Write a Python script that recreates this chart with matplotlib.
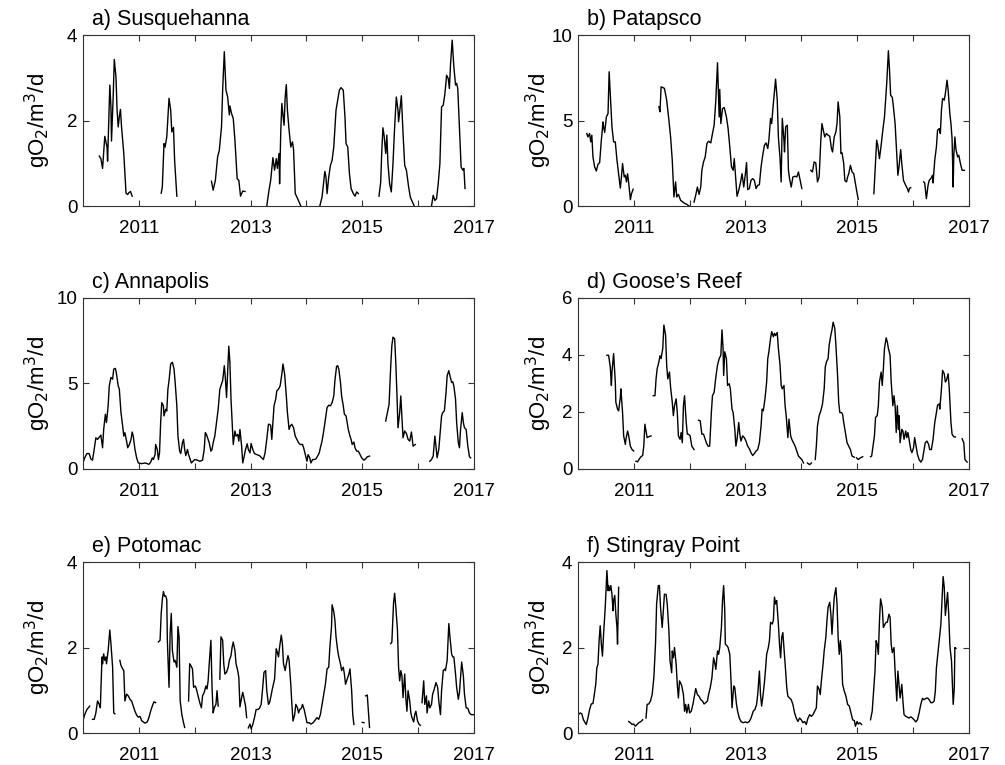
import numpy as np
import matplotlib
matplotlib.use("Agg")
import matplotlib.pyplot as plt

plt.rcParams['font.family'] = ['Liberation Sans', 'DejaVu Sans']

# (decimal year, gO2/m3/d); None marks a gap in the record
susquehanna = [
    (2010.29, 1.17), (2010.32, 1.11), (2010.35, 0.88), (2010.39, 1.63), (2010.43, 1.38), (2010.44, 1.05),
    (2010.48, 2.83), (2010.50, 2.32), (2010.51, 1.52), (2010.54, 2.55), (2010.56, 3.43), (2010.59, 3.02),
    (2010.61, 2.24), (2010.63, 1.85), (2010.65, 2.09), (2010.67, 2.26), (2010.69, 1.85), (2010.73, 1.23),
    (2010.77, 0.30), (2010.80, 0.27), (2010.82, 0.31), (2010.85, 0.34), (2010.88, 0.23), None,
    (2011.40, 0.30), (2011.42, 0.45), (2011.45, 1.46), (2011.47, 1.38), (2011.50, 1.62), (2011.52, 2.09),
    (2011.54, 2.52), (2011.57, 2.24), (2011.59, 1.73), (2011.62, 1.84), (2011.64, 1.07), (2011.68, 0.23), None,
    (2012.30, 0.58), (2012.33, 0.37), (2012.37, 0.60), (2012.41, 1.15), (2012.44, 1.30), (2012.48, 1.85),
    (2012.50, 2.71), (2012.53, 3.61), (2012.56, 2.71), (2012.59, 2.55), (2012.62, 2.13), (2012.63, 2.34),
    (2012.66, 2.16), (2012.69, 2.05), (2012.72, 1.54), (2012.76, 0.64), (2012.79, 0.60), (2012.82, 0.23),
    (2012.86, 0.35), (2012.90, 0.34), None,
    (2013.29, 0.00), (2013.33, 0.37), (2013.36, 0.60), (2013.40, 1.13), (2013.43, 0.84), (2013.46, 1.11),
    (2013.48, 0.88), (2013.51, 1.23), (2013.52, 0.52), (2013.54, 1.70), (2013.56, 2.40), (2013.58, 2.13),
    (2013.60, 1.89), (2013.62, 2.55), (2013.64, 2.84), (2013.66, 2.24), (2013.69, 1.77), (2013.72, 1.38),
    (2013.75, 1.50), (2013.77, 1.32), (2013.80, 0.29), (2013.83, 0.21), (2013.87, 0.09), (2013.90, 0.00), None,
    (2014.24, 0.00), (2014.28, 0.21), (2014.30, 0.45), (2014.33, 0.81), (2014.35, 0.68), (2014.37, 0.29),
    (2014.40, 0.68), (2014.43, 0.95), (2014.46, 1.07), (2014.49, 1.38), (2014.53, 2.24), (2014.56, 2.48),
    (2014.59, 2.71), (2014.62, 2.77), (2014.66, 2.71), (2014.69, 2.09), (2014.71, 1.46), (2014.74, 1.38),
    (2014.77, 0.76), (2014.80, 0.41), (2014.84, 0.29), (2014.87, 0.23), (2014.90, 0.33), (2014.93, 0.29), None,
    (2015.30, 0.23), (2015.33, 0.56), (2015.35, 1.30), (2015.37, 1.83), (2015.39, 1.66), (2015.42, 1.23),
    (2015.44, 1.66), (2015.46, 0.99), (2015.49, 0.52), (2015.52, 0.33), (2015.55, 0.99), (2015.58, 1.85),
    (2015.61, 2.55), (2015.64, 2.24), (2015.65, 1.97), (2015.68, 2.32), (2015.70, 2.58), (2015.73, 1.70),
    (2015.76, 0.95), (2015.79, 0.84), (2015.83, 0.45), (2015.86, 0.21), (2015.90, 0.09), (2015.93, 0.00), None,
    (2016.24, 0.00), (2016.27, 0.25), (2016.30, 0.13), (2016.33, 0.17), (2016.36, 0.52), (2016.39, 0.99),
    (2016.42, 2.32), (2016.45, 2.36), (2016.48, 2.63), (2016.51, 3.06), (2016.54, 2.98), (2016.56, 2.75),
    (2016.58, 3.30), (2016.61, 3.88), (2016.64, 3.26), (2016.67, 2.83), (2016.69, 2.87), (2016.71, 2.75),
    (2016.74, 1.85), (2016.77, 0.91), (2016.80, 0.84), (2016.82, 0.88), (2016.84, 0.41),
]

patapsco = [
    (2010.16, 4.24), (2010.18, 4.04), (2010.21, 4.24), (2010.23, 3.75), (2010.25, 4.14), (2010.27, 2.87),
    (2010.30, 2.29), (2010.33, 2.05), (2010.36, 2.44), (2010.39, 2.54), (2010.42, 3.85), (2010.45, 4.92),
    (2010.46, 4.63), (2010.48, 4.30), (2010.51, 5.21), (2010.54, 5.41), (2010.56, 7.85), (2010.58, 6.58),
    (2010.61, 4.63), (2010.64, 3.75), (2010.67, 3.75), (2010.70, 2.68), (2010.73, 1.89), (2010.76, 1.05),
    (2010.78, 1.70), (2010.80, 2.48), (2010.83, 1.70), (2010.85, 1.80), (2010.87, 1.41), (2010.89, 1.89),
    (2010.91, 1.35), (2010.94, 0.37), (2010.96, 0.72), (2010.99, 0.98), None,
    (2011.45, 5.80), (2011.47, 5.51), (2011.49, 6.97), (2011.52, 6.93), (2011.55, 6.88), (2011.59, 6.19),
    (2011.63, 5.02), (2011.66, 4.04), (2011.69, 2.68), (2011.72, 0.53), (2011.75, 1.41), (2011.77, 0.53),
    (2011.80, 0.68), (2011.84, 0.33), (2011.88, 0.23), (2011.92, 0.14), (2011.95, 0.10), (2011.99, 0.00), None,
    (2012.08, 0.23), (2012.11, 0.63), (2012.14, 1.11), (2012.17, 0.68), (2012.20, 1.11), (2012.22, 2.09),
    (2012.25, 2.58), (2012.28, 2.87), (2012.31, 3.65), (2012.34, 3.79), (2012.38, 3.69), (2012.41, 4.24),
    (2012.44, 4.73), (2012.47, 6.19), (2012.50, 8.38), (2012.53, 5.21), (2012.54, 6.82), (2012.56, 4.82),
    (2012.59, 5.70), (2012.62, 5.76), (2012.66, 5.21), (2012.69, 4.53), (2012.72, 3.46), (2012.75, 2.29),
    (2012.78, 2.09), (2012.80, 2.77), (2012.83, 1.50), (2012.85, 0.57), (2012.88, 0.92), (2012.91, 1.35),
    (2012.94, 1.89), (2012.97, 1.11), (2013.00, 1.89), (2013.02, 2.54), (2013.04, 0.96), (2013.07, 1.02),
    (2013.10, 1.50), (2013.13, 1.60), (2013.16, 1.50), (2013.19, 1.02), (2013.22, 1.21), (2013.25, 1.25),
    (2013.28, 2.29), (2013.31, 2.97), (2013.34, 3.55), (2013.37, 3.69), (2013.40, 3.36), (2013.42, 3.85),
    (2013.45, 5.12), (2013.47, 4.82), (2013.50, 5.99), (2013.54, 7.42), (2013.57, 6.19), (2013.59, 4.04),
    (2013.62, 2.77), (2013.64, 1.41), (2013.66, 5.12), (2013.69, 3.85), (2013.70, 3.16), (2013.72, 4.63),
    (2013.75, 4.73), (2013.77, 2.09), (2013.79, 1.60), (2013.82, 1.11), (2013.85, 1.70), (2013.89, 1.74),
    (2013.92, 1.70), (2013.95, 1.99), (2013.98, 1.50), (2014.01, 1.02), None,
    (2014.17, 2.09), (2014.20, 1.99), (2014.23, 2.58), (2014.26, 2.52), (2014.29, 1.41), (2014.32, 1.70),
    (2014.35, 3.85), (2014.37, 4.82), (2014.40, 4.34), (2014.42, 4.04), (2014.45, 4.24), (2014.48, 4.14),
    (2014.51, 4.08), (2014.54, 3.36), (2014.56, 3.16), (2014.59, 4.04), (2014.62, 4.34), (2014.64, 4.82),
    (2014.66, 6.09), (2014.69, 5.21), (2014.71, 3.07), (2014.73, 3.11), (2014.76, 2.48), (2014.78, 1.50),
    (2014.81, 1.41), (2014.83, 1.70), (2014.85, 1.89), (2014.88, 2.38), (2014.91, 1.99), (2014.94, 1.89),
    (2014.96, 1.50), (2014.99, 0.92), (2015.02, 0.39), None,
    (2015.30, 0.72), (2015.33, 2.58), (2015.35, 3.85), (2015.37, 3.55), (2015.40, 2.77), (2015.43, 3.55),
    (2015.46, 4.43), (2015.49, 5.21), (2015.51, 6.19), (2015.53, 7.17), (2015.56, 9.08), (2015.58, 7.95),
    (2015.60, 6.48), (2015.63, 6.35), (2015.65, 5.80), (2015.68, 4.82), (2015.71, 3.07), (2015.73, 1.80),
    (2015.75, 2.29), (2015.78, 3.30), (2015.80, 2.48), (2015.83, 1.50), (2015.87, 1.21), (2015.90, 1.02),
    (2015.92, 0.82), (2015.94, 1.05), (2015.96, 1.07), None,
    (2016.19, 1.41), (2016.21, 1.35), (2016.24, 0.43), (2016.27, 1.21), (2016.29, 1.50), (2016.32, 1.60),
    (2016.35, 1.80), (2016.36, 1.35), (2016.39, 2.68), (2016.42, 3.46), (2016.44, 4.43), (2016.47, 4.53),
    (2016.49, 4.24), (2016.51, 5.61), (2016.53, 6.29), (2016.56, 6.19), (2016.58, 6.58), (2016.61, 7.36),
    (2016.63, 6.78), (2016.66, 5.41), (2016.68, 4.82), (2016.70, 3.95), (2016.72, 1.11), (2016.73, 2.87),
    (2016.75, 4.04), (2016.77, 3.30), (2016.80, 2.87), (2016.82, 2.97), (2016.85, 2.48), (2016.88, 2.09),
    (2016.92, 2.09),
]

annapolis = [
    (2010.00, 0.35), (2010.03, 0.65), (2010.07, 0.90), (2010.11, 0.90), (2010.14, 0.59), (2010.17, 0.51),
    (2010.20, 1.14), (2010.23, 1.82), (2010.26, 1.73), (2010.29, 1.86), (2010.32, 1.98), (2010.35, 1.24),
    (2010.37, 2.31), (2010.40, 3.20), (2010.42, 2.71), (2010.45, 3.69), (2010.47, 4.86), (2010.50, 5.35),
    (2010.53, 5.25), (2010.55, 5.84), (2010.58, 5.88), (2010.60, 5.55), (2010.63, 4.86), (2010.65, 4.67),
    (2010.68, 3.29), (2010.71, 2.51), (2010.73, 1.92), (2010.75, 2.12), (2010.78, 1.63), (2010.80, 1.24),
    (2010.83, 1.43), (2010.86, 1.73), (2010.88, 2.16), (2010.90, 1.92), (2010.93, 1.14), (2010.96, 0.65),
    (2010.99, 0.35), (2011.05, 0.31), (2011.11, 0.35), (2011.15, 0.31), (2011.18, 0.27), (2011.21, 0.39),
    (2011.24, 0.65), (2011.26, 0.55), (2011.29, 0.84), (2011.30, 1.43), (2011.33, 1.14), (2011.35, 0.55),
    (2011.37, 0.94), (2011.39, 2.71), (2011.41, 3.88), (2011.44, 3.69), (2011.45, 3.10), (2011.48, 3.49),
    (2011.50, 3.39), (2011.52, 4.67), (2011.54, 5.16), (2011.57, 6.14), (2011.60, 6.24), (2011.63, 5.84),
    (2011.65, 5.06), (2011.68, 3.69), (2011.70, 1.92), (2011.73, 1.04), (2011.75, 0.90), (2011.78, 1.53),
    (2011.80, 1.73), (2011.82, 1.14), (2011.84, 0.78), (2011.87, 1.14), (2011.89, 0.84), (2011.92, 0.55),
    (2011.94, 0.35), (2011.97, 0.45), (2012.00, 0.55), (2012.05, 0.51), (2012.09, 0.45), (2012.14, 0.51),
    (2012.17, 1.14), (2012.19, 2.12), (2012.21, 2.02), (2012.24, 1.73), (2012.26, 1.53), (2012.29, 1.04),
    (2012.31, 1.14), (2012.33, 1.53), (2012.36, 1.92), (2012.39, 2.71), (2012.42, 3.49), (2012.45, 4.67),
    (2012.48, 4.96), (2012.50, 5.16), (2012.53, 6.04), (2012.55, 5.25), (2012.57, 4.18), (2012.59, 5.65),
    (2012.61, 7.18), (2012.63, 6.24), (2012.65, 4.08), (2012.67, 2.71), (2012.69, 1.43), (2012.72, 2.22),
    (2012.74, 1.92), (2012.77, 2.02), (2012.79, 1.63), (2012.81, 2.31), (2012.84, 1.33), (2012.86, 0.35),
    (2012.88, 0.65), (2012.91, 1.14), (2012.94, 1.47), (2012.96, 1.14), (2012.99, 0.94), (2013.01, 1.49),
    (2013.04, 1.14), (2013.07, 0.90), (2013.11, 0.84), (2013.16, 0.78), (2013.20, 0.65), (2013.23, 0.55),
    (2013.26, 0.94), (2013.29, 1.73), (2013.32, 2.61), (2013.34, 2.61), (2013.36, 2.55), (2013.38, 1.73),
    (2013.40, 2.71), (2013.42, 3.69), (2013.45, 4.08), (2013.47, 4.57), (2013.50, 4.67), (2013.53, 4.86),
    (2013.56, 5.55), (2013.58, 6.14), (2013.61, 5.55), (2013.64, 4.27), (2013.66, 3.29), (2013.69, 2.31),
    (2013.71, 2.51), (2013.74, 2.61), (2013.77, 2.41), (2013.80, 1.92), (2013.83, 1.73), (2013.86, 1.53),
    (2013.89, 1.43), (2013.93, 1.43), (2013.95, 1.24), (2013.98, 0.84), (2014.01, 0.45), (2014.03, 0.84),
    (2014.06, 0.65), (2014.08, 0.35), (2014.11, 0.55), (2014.14, 0.55), (2014.17, 0.59), (2014.20, 0.75),
    (2014.23, 0.94), (2014.25, 1.24), (2014.28, 1.63), (2014.31, 2.22), (2014.34, 2.90), (2014.37, 3.59),
    (2014.40, 3.73), (2014.43, 3.69), (2014.46, 3.88), (2014.49, 4.27), (2014.51, 5.16), (2014.54, 6.00),
    (2014.56, 6.04), (2014.58, 5.84), (2014.61, 5.06), (2014.63, 4.27), (2014.66, 3.69), (2014.68, 3.20),
    (2014.71, 3.10), (2014.73, 2.71), (2014.75, 2.31), (2014.78, 1.92), (2014.80, 1.73), (2014.82, 1.43),
    (2014.85, 1.57), (2014.87, 1.24), (2014.90, 1.04), (2014.93, 1.04), (2014.96, 0.84), (2014.99, 0.65),
    (2015.03, 0.51), (2015.06, 0.59), (2015.09, 0.71), (2015.13, 0.75), None,
    (2015.42, 2.80), (2015.45, 3.29), (2015.48, 3.78), (2015.51, 6.04), (2015.53, 7.22), (2015.55, 7.71),
    (2015.58, 7.61), (2015.60, 6.24), (2015.62, 4.47), (2015.64, 2.41), (2015.67, 3.29), (2015.69, 4.27),
    (2015.71, 3.10), (2015.73, 1.82), (2015.76, 2.22), (2015.79, 2.08), (2015.82, 1.73), (2015.85, 1.63),
    (2015.88, 2.16), (2015.91, 1.33), (2015.95, 1.43), None,
    (2016.21, 0.45), (2016.24, 0.55), (2016.27, 0.75), (2016.30, 1.92), (2016.32, 1.33), (2016.34, 0.65),
    (2016.37, 1.14), (2016.39, 1.92), (2016.42, 3.10), (2016.44, 3.29), (2016.47, 3.39), (2016.50, 4.47),
    (2016.52, 5.45), (2016.55, 5.75), (2016.57, 5.45), (2016.60, 5.06), (2016.62, 5.10), (2016.64, 4.86),
    (2016.67, 4.08), (2016.69, 2.71), (2016.72, 1.53), (2016.74, 1.24), (2016.76, 2.31), (2016.79, 3.29),
    (2016.81, 2.71), (2016.83, 2.41), (2016.86, 2.31), (2016.89, 1.33), (2016.92, 0.71), (2016.94, 0.65),
]

gooses_reef = [
    (2010.52, 3.99), (2010.55, 3.99), (2010.58, 3.58), (2010.60, 2.93), (2010.61, 3.40), (2010.64, 4.05),
    (2010.67, 3.05), (2010.68, 2.34), (2010.71, 2.10), (2010.73, 2.04), (2010.76, 2.51), (2010.77, 2.81),
    (2010.80, 1.98), (2010.82, 1.16), (2010.85, 0.86), (2010.86, 1.04), (2010.89, 1.33), (2010.91, 1.16),
    (2010.94, 0.80), (2010.97, 0.68), (2011.00, 0.63), None,
    (2011.04, 0.27), (2011.07, 0.25), (2011.10, 0.35), (2011.13, 0.43), (2011.16, 0.47), (2011.18, 0.80),
    (2011.20, 1.57), (2011.22, 1.33), (2011.24, 1.10), (2011.27, 1.13), (2011.31, 1.16), None,
    (2011.35, 2.57), (2011.38, 2.57), (2011.40, 3.16), (2011.42, 3.52), (2011.45, 3.75), (2011.47, 3.97),
    (2011.49, 3.87), (2011.52, 4.23), (2011.54, 5.05), (2011.57, 4.70), (2011.59, 3.64), (2011.61, 3.16),
    (2011.64, 3.40), (2011.66, 2.87), (2011.69, 2.34), (2011.71, 1.87), (2011.73, 2.22), (2011.76, 2.46),
    (2011.78, 1.98), (2011.80, 1.16), (2011.83, 1.04), (2011.85, 1.28), (2011.87, 0.92), (2011.89, 2.22),
    (2011.91, 2.57), (2011.94, 1.63), (2011.96, 1.22), (2011.98, 1.22), (2012.01, 1.16), (2012.04, 0.80),
    (2012.08, 0.68), None,
    (2012.16, 1.71), (2012.19, 1.69), (2012.22, 1.22), (2012.25, 1.22), (2012.28, 1.04), (2012.30, 0.92),
    (2012.33, 0.80), (2012.36, 0.80), (2012.39, 1.98), (2012.41, 2.57), (2012.44, 2.69), (2012.47, 3.22),
    (2012.50, 3.64), (2012.53, 3.87), (2012.56, 3.99), (2012.58, 4.88), (2012.60, 4.23), (2012.61, 3.28),
    (2012.63, 4.11), (2012.66, 3.87), (2012.68, 2.93), (2012.71, 2.99), (2012.73, 2.81), (2012.76, 2.10),
    (2012.78, 1.98), (2012.81, 1.39), (2012.83, 0.80), (2012.85, 1.04), (2012.88, 1.63), (2012.90, 1.22),
    (2012.92, 0.98), (2012.95, 1.16), (2012.98, 1.10), (2013.01, 0.98), (2013.04, 0.80), (2013.07, 0.71),
    (2013.10, 0.57), (2013.13, 0.47), (2013.16, 0.54), (2013.19, 0.63), (2013.22, 0.68), (2013.25, 0.92),
    (2013.28, 1.51), (2013.30, 2.10), (2013.32, 2.04), (2013.35, 2.46), (2013.38, 3.05), (2013.40, 3.87),
    (2013.42, 4.11), (2013.45, 4.58), (2013.47, 4.82), (2013.50, 4.64), (2013.52, 4.76), (2013.54, 4.68),
    (2013.57, 4.79), (2013.59, 4.23), (2013.62, 3.64), (2013.64, 2.93), (2013.66, 2.81), (2013.69, 2.93),
    (2013.71, 2.22), (2013.73, 1.87), (2013.76, 1.10), (2013.78, 1.75), (2013.81, 1.16), (2013.83, 1.04),
    (2013.86, 0.92), (2013.89, 0.80), (2013.92, 0.63), (2013.95, 0.45), (2013.98, 0.39), (2014.01, 0.33),
    (2014.04, 0.21), None,
    (2014.11, 0.21), (2014.15, 0.15), (2014.18, 0.21), None,
    (2014.25, 0.33), (2014.27, 0.80), (2014.29, 1.51), (2014.32, 1.87), (2014.35, 2.04), (2014.38, 2.28),
    (2014.41, 2.81), (2014.43, 3.58), (2014.45, 3.75), (2014.48, 3.87), (2014.50, 4.35), (2014.53, 4.70),
    (2014.55, 4.88), (2014.57, 5.15), (2014.60, 4.94), (2014.62, 4.35), (2014.65, 3.28), (2014.67, 2.34),
    (2014.69, 1.98), (2014.72, 1.98), (2014.74, 1.92), (2014.76, 1.63), (2014.79, 1.28), (2014.82, 0.92),
    (2014.85, 0.80), (2014.88, 0.68), (2014.91, 0.45), (2014.95, 0.41), None,
    (2014.99, 0.39), (2015.02, 0.33), (2015.06, 0.39), (2015.10, 0.43), None,
    (2015.24, 0.43), (2015.26, 0.45), (2015.28, 0.74), (2015.31, 1.16), (2015.33, 1.81), (2015.36, 1.87),
    (2015.38, 2.22), (2015.40, 3.05), (2015.43, 3.40), (2015.45, 2.93), (2015.47, 3.52), (2015.49, 4.23),
    (2015.52, 4.60), (2015.54, 4.46), (2015.56, 4.23), (2015.59, 3.99), (2015.61, 3.05), (2015.64, 2.22),
    (2015.66, 2.57), (2015.68, 2.22), (2015.70, 1.28), (2015.72, 2.22), (2015.74, 1.39), (2015.75, 1.87),
    (2015.77, 0.92), (2015.80, 1.39), (2015.82, 1.33), (2015.84, 1.04), (2015.87, 1.33), (2015.89, 1.10),
    (2015.91, 1.28), (2015.94, 0.92), (2015.96, 0.68), (2015.98, 0.57), (2016.01, 0.74), (2016.03, 1.10),
    (2016.05, 0.86), (2016.08, 0.51), (2016.11, 0.33), (2016.14, 0.24), (2016.17, 0.33), (2016.19, 0.57),
    (2016.22, 0.92), (2016.25, 0.98), (2016.28, 0.86), (2016.30, 0.68), (2016.33, 0.68), (2016.36, 1.04),
    (2016.39, 1.63), (2016.42, 1.98), (2016.44, 2.24), (2016.47, 2.28), (2016.48, 2.10), (2016.51, 2.81),
    (2016.53, 3.46), (2016.56, 3.34), (2016.58, 3.05), (2016.60, 3.11), (2016.63, 3.34), (2016.65, 2.81),
    (2016.68, 1.63), (2016.70, 1.22), (2016.73, 1.13), (2016.76, 1.12), None,
    (2016.88, 1.06), (2016.91, 0.92), (2016.93, 0.33), (2016.97, 0.24),
]

potomac = [
    (2010.00, 0.29), (2010.03, 0.43), (2010.07, 0.55), (2010.12, 0.63), None,
    (2010.17, 0.32), (2010.20, 0.32), (2010.23, 0.47), (2010.26, 0.75), (2010.29, 0.67), (2010.31, 0.59),
    (2010.34, 1.78), (2010.35, 1.62), (2010.37, 1.85), (2010.39, 1.70), (2010.41, 1.78), (2010.42, 1.62),
    (2010.45, 1.93), (2010.48, 2.41), (2010.50, 2.09), (2010.53, 1.54), (2010.55, 0.47), (2010.57, 0.45), None,
    (2010.66, 1.70), (2010.68, 1.58), (2010.71, 1.50), (2010.73, 1.46), (2010.75, 0.75), (2010.78, 0.91),
    (2010.81, 0.87), (2010.84, 0.79), (2010.87, 0.75), (2010.90, 0.63), (2010.93, 0.51), (2010.96, 0.42),
    (2010.99, 0.37), (2011.02, 0.39), (2011.05, 0.29), (2011.08, 0.26), (2011.11, 0.23), (2011.15, 0.26),
    (2011.18, 0.36), (2011.21, 0.51), (2011.24, 0.63), (2011.27, 0.73), (2011.30, 0.71), None,
    (2011.35, 2.13), (2011.38, 2.17), (2011.40, 2.80), (2011.42, 3.12), (2011.44, 3.31), (2011.46, 3.20),
    (2011.48, 3.21), (2011.50, 3.12), (2011.51, 2.17), (2011.54, 1.07), (2011.56, 2.33), (2011.58, 2.80),
    (2011.60, 1.93), (2011.63, 1.66), (2011.65, 1.70), (2011.68, 1.54), (2011.70, 2.49), (2011.72, 2.25),
    (2011.74, 0.75), (2011.77, 0.43), (2011.80, 0.24), (2011.82, 0.13), None,
    (2011.89, 0.75), (2011.91, 1.62), (2011.93, 1.58), (2011.96, 1.50), (2011.98, 1.07), (2012.01, 1.10),
    (2012.03, 1.03), (2012.06, 0.87), (2012.09, 0.71), (2012.12, 0.59), (2012.14, 0.87), (2012.17, 0.95),
    (2012.20, 1.10), (2012.22, 1.03), (2012.24, 1.22), (2012.26, 1.62), (2012.29, 2.17), (2012.31, 1.07),
    (2012.33, 0.47), (2012.35, 0.59), (2012.38, 0.67), (2012.40, 0.99), (2012.42, 0.63), None,
    (2012.45, 1.26), (2012.47, 2.25), (2012.50, 2.17), (2012.52, 1.62), (2012.54, 1.38), (2012.57, 1.42),
    (2012.60, 1.54), (2012.62, 1.70), (2012.65, 1.81), (2012.67, 2.01), (2012.69, 2.13), (2012.72, 1.93),
    (2012.74, 1.62), (2012.77, 1.46), (2012.79, 1.30), (2012.81, 0.61), (2012.84, 0.83), (2012.86, 0.95),
    (2012.88, 0.83), (2012.91, 0.63), (2012.93, 0.36), None,
    (2012.96, 0.12), (2012.99, 0.21), (2013.01, 0.10), (2013.04, 0.20), (2013.07, 0.36), (2013.10, 0.55),
    (2013.13, 0.55), (2013.16, 0.58), (2013.19, 0.67), (2013.22, 1.10), (2013.24, 1.42), (2013.27, 1.46),
    (2013.29, 0.99), (2013.32, 0.67), (2013.34, 0.71), (2013.36, 0.83), (2013.39, 1.03), (2013.41, 1.14),
    (2013.43, 1.26), (2013.46, 1.97), (2013.48, 1.89), (2013.50, 1.78), (2013.52, 2.01), (2013.55, 2.29),
    (2013.57, 2.09), (2013.59, 1.62), (2013.62, 1.46), (2013.64, 1.62), (2013.67, 1.81), (2013.69, 1.70),
    (2013.72, 1.14), (2013.74, 0.67), (2013.76, 0.28), (2013.79, 0.43), (2013.81, 0.67), (2013.84, 0.59),
    (2013.86, 0.47), (2013.88, 0.55), (2013.91, 0.58), (2013.93, 0.67), (2013.96, 0.55), (2013.98, 0.43),
    (2014.01, 0.24), (2014.05, 0.24), (2014.08, 0.21), (2014.12, 0.24), (2014.15, 0.29), (2014.19, 0.36),
    (2014.22, 0.32), (2014.25, 0.43), (2014.28, 0.67), (2014.31, 0.91), (2014.34, 1.14), (2014.37, 1.50),
    (2014.40, 1.54), (2014.42, 2.01), (2014.45, 2.49), (2014.46, 3.00), (2014.49, 2.84), (2014.51, 2.64),
    (2014.53, 2.25), (2014.56, 1.93), (2014.58, 1.78), (2014.61, 1.62), (2014.63, 1.46), (2014.66, 1.54),
    (2014.68, 1.38), (2014.70, 1.14), (2014.73, 1.26), (2014.76, 1.38), (2014.78, 1.50), (2014.81, 0.99),
    (2014.83, 0.43), (2014.85, 0.20), None,
    (2015.00, 0.25), (2015.03, 0.24), None,
    (2015.06, 0.87), (2015.09, 0.89), (2015.11, 0.51), (2015.13, 0.13), None,
    (2015.51, 2.09), (2015.53, 2.13), (2015.56, 3.04), (2015.58, 3.27), (2015.60, 2.96), (2015.63, 2.41),
    (2015.65, 1.54), (2015.67, 1.22), (2015.69, 1.46), (2015.71, 1.34), (2015.73, 0.83), (2015.76, 1.38),
    (2015.78, 0.83), (2015.80, 0.51), (2015.82, 0.99), (2015.85, 0.75), (2015.87, 0.47), (2015.89, 0.36),
    (2015.92, 0.26), (2015.94, 0.43), (2015.96, 0.51), (2015.99, 0.28), (2016.02, 0.20), (2016.04, 0.18), None,
    (2016.07, 0.71), (2016.10, 1.22), (2016.12, 0.67), (2016.15, 0.87), (2016.16, 0.47), (2016.19, 0.75),
    (2016.21, 0.59), (2016.24, 0.67), (2016.26, 0.91), (2016.29, 1.03), (2016.32, 1.18), (2016.35, 1.07),
    (2016.37, 0.75), (2016.40, 0.43), (2016.42, 0.99), (2016.45, 1.46), (2016.48, 1.50), (2016.49, 1.46),
    (2016.52, 1.70), (2016.55, 2.56), (2016.57, 2.25), (2016.60, 1.85), (2016.62, 1.78), (2016.64, 1.78),
    (2016.67, 1.38), (2016.69, 1.07), (2016.72, 0.79), (2016.74, 0.95), (2016.76, 1.30), (2016.78, 1.66),
    (2016.81, 1.34), (2016.83, 0.91), (2016.86, 0.59), (2016.89, 0.58), (2016.92, 0.47), (2016.95, 0.43),
    (2016.99, 0.43),
]

stingray_point = [
    (2010.01, 0.43), (2010.04, 0.47), (2010.07, 0.45), (2010.10, 0.31), (2010.13, 0.24), (2010.15, 0.20),
    (2010.18, 0.35), (2010.21, 0.55), (2010.24, 0.68), (2010.27, 0.69), (2010.29, 0.86), (2010.32, 1.14),
    (2010.34, 1.53), (2010.36, 1.61), (2010.38, 2.16), (2010.40, 2.51), (2010.42, 2.08), (2010.44, 1.80),
    (2010.46, 2.31), (2010.49, 2.94), (2010.51, 3.53), (2010.52, 3.80), (2010.54, 3.33), (2010.55, 3.45),
    (2010.57, 3.33), (2010.59, 3.45), (2010.61, 3.25), (2010.63, 2.86), (2010.64, 3.10), (2010.66, 3.22),
    (2010.68, 2.78), (2010.70, 2.47), (2010.71, 2.08), (2010.73, 3.41), None,
    (2010.91, 0.27), (2010.94, 0.24), (2010.97, 0.20), (2011.00, 0.21), (2011.03, 0.16), (2011.06, 0.20),
    (2011.09, 0.24), (2011.13, 0.27), (2011.16, 0.31), None,
    (2011.22, 0.35), (2011.24, 0.67), (2011.27, 0.68), (2011.30, 0.75), (2011.33, 0.90), (2011.36, 1.29),
    (2011.39, 2.08), (2011.41, 3.02), (2011.44, 3.45), (2011.46, 3.45), (2011.48, 2.94), (2011.51, 2.47),
    (2011.53, 2.86), (2011.55, 3.25), (2011.58, 3.24), (2011.60, 3.02), (2011.63, 2.39), (2011.65, 1.69),
    (2011.68, 1.41), (2011.69, 1.92), (2011.71, 1.76), (2011.73, 2.00), (2011.76, 1.61), (2011.78, 1.14),
    (2011.80, 0.82), (2011.82, 1.22), (2011.85, 1.14), (2011.86, 1.10), (2011.89, 0.90), (2011.91, 0.51),
    (2011.93, 0.67), (2011.95, 0.47), (2011.98, 0.67), (2012.00, 0.47), (2012.03, 0.51), (2012.06, 0.67),
    (2012.09, 0.90), (2012.11, 1.04), (2012.14, 0.90), (2012.17, 0.86), (2012.20, 0.78), (2012.23, 0.75),
    (2012.26, 0.68), (2012.29, 0.71), (2012.32, 0.75), (2012.34, 0.90), (2012.37, 1.06), (2012.40, 1.29),
    (2012.43, 1.76), (2012.45, 1.65), (2012.47, 1.49), (2012.50, 1.92), (2012.52, 1.84), (2012.54, 2.00),
    (2012.57, 2.47), (2012.59, 3.10), (2012.61, 3.45), (2012.63, 2.86), (2012.64, 2.08), (2012.67, 2.04),
    (2012.69, 2.00), (2012.72, 1.84), (2012.74, 1.29), (2012.76, 0.59), (2012.79, 1.10), (2012.81, 1.06),
    (2012.84, 0.67), (2012.86, 0.51), (2012.89, 0.35), (2012.92, 0.27), (2012.96, 0.24), (2013.00, 0.26),
    (2013.03, 0.24), (2013.07, 0.27), (2013.10, 0.35), (2013.14, 0.51), (2013.17, 0.55), (2013.20, 0.67),
    (2013.22, 0.90), (2013.25, 1.45), (2013.27, 0.90), (2013.29, 0.63), (2013.31, 0.82), (2013.34, 1.18),
    (2013.36, 1.49), (2013.38, 1.84), (2013.41, 2.00), (2013.43, 2.16), (2013.45, 2.59), (2013.48, 2.55),
    (2013.50, 2.63), (2013.52, 3.18), (2013.54, 3.02), (2013.56, 3.10), (2013.59, 2.55), (2013.61, 2.08),
    (2013.63, 1.76), (2013.65, 2.24), (2013.67, 2.35), (2013.69, 2.00), (2013.72, 1.45), (2013.74, 1.06),
    (2013.76, 0.86), (2013.79, 0.82), (2013.82, 0.78), (2013.85, 0.67), (2013.88, 0.47), (2013.91, 0.35),
    (2013.94, 0.27), (2013.97, 0.35), (2014.00, 0.31), (2014.03, 0.24), (2014.06, 0.27), (2014.09, 0.20),
    (2014.12, 0.35), (2014.15, 0.43), (2014.18, 0.39), (2014.21, 0.43), (2014.24, 0.51), (2014.27, 0.59),
    (2014.29, 1.10), (2014.32, 1.02), (2014.34, 0.90), (2014.36, 1.22), (2014.39, 1.61), (2014.41, 1.92),
    (2014.44, 2.24), (2014.46, 2.63), (2014.48, 2.94), (2014.51, 3.06), (2014.53, 2.78), (2014.55, 2.31),
    (2014.57, 2.78), (2014.59, 3.18), (2014.62, 3.40), (2014.64, 3.02), (2014.66, 2.24), (2014.68, 1.84),
    (2014.70, 2.16), (2014.72, 1.84), (2014.74, 1.14), (2014.77, 0.98), (2014.80, 0.86), (2014.83, 0.67),
    (2014.86, 0.63), (2014.89, 0.47), (2014.92, 0.31), (2014.95, 0.29), (2014.97, 0.16), (2015.00, 0.27),
    (2015.02, 0.21), (2015.05, 0.24), (2015.08, 0.20), None,
    (2015.24, 0.31), (2015.27, 0.51), (2015.29, 0.90), (2015.32, 1.45), (2015.34, 2.16), (2015.36, 2.08),
    (2015.38, 1.84), (2015.40, 2.63), (2015.42, 3.14), (2015.45, 2.94), (2015.47, 2.47), (2015.50, 2.55),
    (2015.52, 2.59), (2015.54, 2.59), (2015.57, 2.78), (2015.59, 2.71), (2015.61, 2.08), (2015.63, 1.88),
    (2015.66, 2.00), (2015.68, 1.45), (2015.71, 0.75), (2015.73, 1.45), (2015.75, 1.14), (2015.77, 0.82),
    (2015.80, 1.14), (2015.82, 0.75), (2015.84, 0.43), (2015.87, 0.39), (2015.90, 0.37), (2015.93, 0.35),
    (2015.96, 0.38), (2015.99, 0.35), (2016.02, 0.31), (2016.05, 0.26), (2016.08, 0.31), (2016.11, 0.47),
    (2016.14, 0.67), (2016.17, 0.81), (2016.20, 0.78), (2016.23, 0.81), (2016.26, 0.82), (2016.29, 0.78),
    (2016.32, 0.71), (2016.35, 0.71), (2016.38, 0.75), (2016.40, 0.98), (2016.42, 1.53), (2016.45, 1.92),
    (2016.47, 2.16), (2016.50, 2.55), (2016.52, 3.10), (2016.54, 3.66), (2016.56, 3.41), (2016.58, 2.75),
    (2016.60, 3.02), (2016.62, 3.29), (2016.64, 2.78), (2016.66, 2.08), (2016.67, 1.92), (2016.69, 1.69),
    (2016.72, 0.67), (2016.74, 1.06), (2016.75, 2.00), (2016.77, 1.98),
]

titles = ["a) Susquehanna", "b) Patapsco", "c) Annapolis",
          "d) Goose\u2019s Reef", "e) Potomac", "f) Stingray Point"]
series = [susquehanna, patapsco, annapolis, gooses_reef, potomac, stingray_point]
y_max = [4, 10, 10, 6, 4, 4]
y_ticks = [[0, 2, 4], [0, 5, 10], [0, 5, 10], [0, 2, 4, 6], [0, 2, 4], [0, 2, 4]]
years = list(range(2011, 2018))
year_labels = [str(y) if y % 2 == 1 else "" for y in years]


def split_pairs(pts):
    # turn the (year, value) list into arrays, gaps become NaN so the line breaks
    t = np.array([p[0] if p else np.nan for p in pts])
    v = np.array([p[1] if p else np.nan for p in pts])
    return t, v


fig = plt.figure(figsize=(10.05, 7.65), dpi=100)

lefts = [0.0826, 0.575]
bottoms = [0.7307, 0.387, 0.0418]
w, h = 0.389, 0.2235

for i in range(6):
    row, col = divmod(i, 2)
    ax = fig.add_axes([lefts[col], bottoms[row], w, h])
    t, v = split_pairs(series[i])
    ax.plot(t, v, color="black", lw=1.0)

    ax.set_xlim(2010, 2017)
    ax.set_ylim(0, y_max[i])
    ax.set_xticks(years)
    ax.set_xticklabels(year_labels)
    ax.set_yticks(y_ticks[i])
    ax.tick_params(direction="in", top=True, right=True, length=4, width=0.8,
                   labelsize=13.5, color="#333333")
    ax.tick_params(axis="x", pad=10)
    ax.tick_params(axis="y", pad=4)
    for s in ax.spines.values():
        s.set_linewidth(0.8)
        s.set_color("#333333")

    ax.set_ylabel("gO$_2$/m$^3$/d", fontsize=16)
    ax.yaxis.set_label_coords(-0.077 if col == 0 else -0.062, 0.5)
    ax.text(0.023, 1.03, titles[i], transform=ax.transAxes,
            fontsize=15.5, ha="left", va="bottom")

fig.savefig("out.png", dpi=100)
